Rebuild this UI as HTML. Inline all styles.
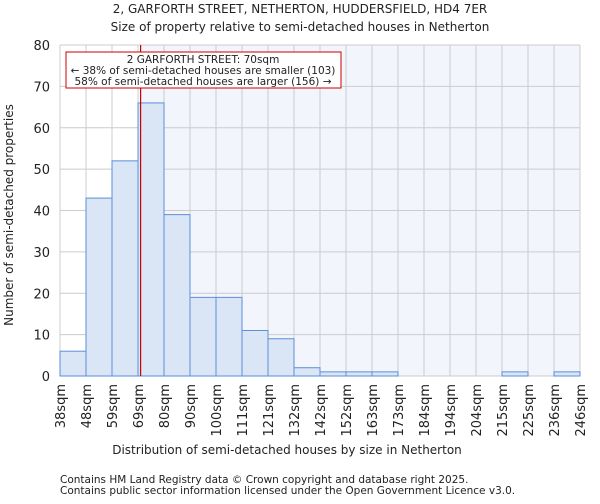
<!DOCTYPE html>
<html><head><meta charset="utf-8"><style>
body{margin:0;background:#fff;font-family:"DejaVu Sans","Liberation Sans",sans-serif}
svg text{font-family:"DejaVu Sans","Liberation Sans",sans-serif;fill:#222}
</style></head><body>
<svg id="c" width="600" height="500">
<text x="300" y="13" font-size="12" text-anchor="middle">2, GARFORTH STREET, NETHERTON, HUDDERSFIELD, HD4 7ER</text>
<text x="300" y="31" font-size="12" text-anchor="middle">Size of property relative to semi-detached houses in Netherton</text>
<g id="plot"></g>
<text x="287" y="454" font-size="12" text-anchor="middle">Distribution of semi-detached houses by size in Netherton</text>
<text transform="translate(13,215) rotate(-90)" font-size="12" text-anchor="middle">Number of semi-detached properties</text>
<text x="60" y="483" font-size="10.5">Contains HM Land Registry data © Crown copyright and database right 2025.</text>
<text x="60" y="494" font-size="10.5">Contains public sector information licensed under the Open Government Licence v3.0.</text>
</svg>
<script>
const tickLabels=["38sqm","48sqm","59sqm","69sqm","80sqm","90sqm","100sqm","111sqm","121sqm","132sqm","142sqm","152sqm","163sqm","173sqm","184sqm","194sqm","204sqm","215sqm","225sqm","236sqm","246sqm"];
const counts=[6,43,52,66,39,19,19,11,9,2,1,1,1,0,0,0,0,1,0,1];
const yTicks=[0,10,20,30,40,50,60,70,80];
const propertyBin=3.1;
const X0=60,X1=580,Y0=376,Y1=45,YMAX=80;
const bw=(X1-X0)/counts.length;
const xs=i=>X0+i*bw, ys=v=>Y0-(v/YMAX)*(Y0-Y1);
const g=document.getElementById('plot'),NS="http://www.w3.org/2000/svg";
function mk(t,a){const e=document.createElementNS(NS,t);for(const k in a)e.setAttribute(k,a[k]);g.appendChild(e);return e;}
const px=xs(propertyBin);
let bg=mk('rect',{x:px,y:Y1,width:X1-px,height:Y0-Y1,fill:'#f2f5fc'});


yTicks.forEach(v=>{let l=mk('line',{x1:X0,x2:X1,y1:ys(v),y2:ys(v),stroke:'#ccc'});


let t=mk('text',{x:X0-10,y:ys(v)+5,'font-size':13,'text-anchor':'end'});t.textContent=v;

});
tickLabels.forEach((s,i)=>{let l=mk('line',{x1:xs(i),x2:xs(i),y1:Y1,y2:Y0,stroke:'#ccc'});


let t=mk('text',{transform:`translate(${xs(i)+5},${Y0+8}) rotate(-90)`,'font-size':13,'text-anchor':'end'});t.textContent=s;

});
counts.forEach((v,i)=>{if(v<=0)return;let r=mk('rect',{x:xs(i),y:ys(v),width:bw,height:Y0-ys(v),fill:'#dae5f5',stroke:'#5b8fd9','stroke-width':1});

});
let pl=mk('line',{x1:px,x2:px,y1:Y1,y2:Y0,stroke:'#cc0000','stroke-width':1.2});


let box=mk('rect',{x:66,y:52,width:275,height:36,fill:'#fff',stroke:'#cc0000'});


["2 GARFORTH STREET: 70sqm","← 38% of semi-detached houses are smaller (103)","58% of semi-detached houses are larger (156) →"].forEach((s,i)=>{let t=mk('text',{x:203,y:63+i*11,'font-size':10.5,'text-anchor':'middle'});t.textContent=s;

});
</script>
</body></html>
